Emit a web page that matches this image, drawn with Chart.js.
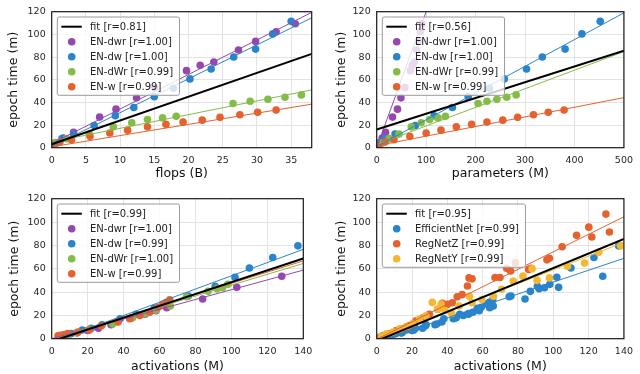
<!DOCTYPE html>
<html>
<head>
<meta charset="utf-8">
<script src="https://cdn.jsdelivr.net/npm/chart.js@4.4.0/dist/chart.umd.min.js"></script>
<style>
  body { margin: 0; background: #fff; }
  .panel { position: absolute; width: 320px; height: 187px; }
</style>
</head>
<body>
<div class="panel" style="left:0;top:0"><canvas id="c1" width="320" height="187"></canvas></div>
<div class="panel" style="left:320px;top:0"><canvas id="c2" width="320" height="187"></canvas></div>
<div class="panel" style="left:0;top:187px"><canvas id="c3" width="320" height="187"></canvas></div>
<div class="panel" style="left:320px;top:187px"><canvas id="c4" width="320" height="187"></canvas></div>
<script>
// top row: epoch time (m) vs flops (B) and parameters (M)
const dwrTime   = [4, 8.5, 13.5, 27, 34, 44, 53, 68, 72.7, 75.6, 86.2, 93.8, 102.3, 109.4];
const dwrFlops  = [0.5, 1.7, 3.2, 7, 9.4, 12.4, 15, 19.7, 21.7, 23.7, 27.3, 29.8, 32.8, 35.6];
const dwrParams = [5, 11, 18, 32, 42, 49, 57, 68, 72, 76, 81, 85, 88, 92];

const dwTime   = [4, 8, 12, 19.5, 28.2, 35.5, 45, 52.5, 60.7, 69.5, 80, 87, 100.4, 111.5];
const dwFlops  = [0.6, 1.5, 3.2, 6.2, 9.3, 12, 15, 17.8, 20.2, 23.3, 26.6, 29.8, 32.3, 35];
const dwParams = [5, 14, 37, 78, 116, 153, 185, 228, 258, 303, 335, 381, 415, 452];

const dWrTime   = [4, 8, 12, 18.4, 22, 24.8, 26.3, 27.7, 39, 41, 42.8, 44.5, 46.6];
const dWrFlops  = [0.5, 2.2, 5.5, 9, 11.7, 14, 16.2, 18.2, 26.5, 29, 31.6, 34.1, 36.5];
const dWrParams = [10, 25, 45, 70, 90, 107, 124, 139, 205, 223, 243, 263, 282];

const wTime   = [1.7, 5, 7, 10, 13, 15.5, 18.4, 20.6, 22.6, 24.3, 26.8, 29.1, 31.3, 33.3];
const wFlops  = [0.4, 1.2, 2.9, 5.6, 8.5, 11.1, 14, 16.7, 19.2, 22, 24.6, 27.5, 30.1, 32.8];
const wParams = [5, 17, 35, 67, 100, 130, 161, 192, 223, 255, 285, 317, 347, 379];

// bottom row: epoch time (m) vs activations (M)
const dwrAct  = [4, 5, 7, 10, 14, 20, 26, 33, 44, 52, 58, 64, 84, 103, 128];
const dwrTimeB = [1.5, 2.5, 3, 4, 5, 7, 9, 12, 17.5, 21, 24, 26.5, 34, 44, 53.5];
const dwAct   = [5, 8, 11, 17, 22, 28, 38, 47, 57, 65, 76, 91, 102, 110, 123, 137];
const dwTimeB = [2, 3, 4.5, 7.5, 9, 12, 17, 21, 26, 30, 36.5, 45, 52.7, 60.6, 69.6, 79.6];
const dWrAct  = [4, 6, 9, 14, 21, 34, 45, 52, 58, 66, 75, 87, 92, 95, 98];
const dWrTimeB = [2, 2.5, 3.5, 5, 8, 12.5, 18, 21.5, 24.5, 28, 36, 40.6, 42.9, 43.7, 46.6];
const wAct    = [3.5, 5, 7, 9, 14.6, 21, 27.6, 36.9, 43.4, 49, 54.5, 59.2, 61.9, 63.8, 65.7];
const wTimeB  = [2.5, 3, 3.5, 4.5, 5.6, 7.5, 11, 14.3, 17.1, 19.9, 22.7, 26.9, 29.8, 31.1, 33.4];

const regZAct  = [1.9, 4.7, 7.4, 11.2, 14.9, 18.6, 22.3, 26, 29.8, 34.5, 37.2, 40, 42.8, 45.6, 48.4, 51.4, 52.3, 54, 67, 69.8, 73.6, 75.8, 78.5, 86, 87.5, 96.4, 97.8, 105, 113.2, 120.1, 121.8, 129.8, 131.8];
const regZTime = [1.4, 2.8, 4.2, 7, 8.4, 11.2, 15.4, 17.7, 21, 25.2, 30.3, 29.4, 30.8, 35.9, 37.8, 45.2, 52.1, 51.3, 52.4, 52.4, 60.3, 58, 65, 59.4, 60.3, 67.6, 69, 78.8, 88.6, 95.6, 87.2, 106.8, 91.4];
const regYAct  = [2.8, 5.6, 9.3, 13, 16.8, 20.5, 24.2, 27.9, 31.5, 34.5, 36.5, 38.7, 42.5, 46.6, 52.5, 54, 59.6, 66.1, 70.7, 77.3, 82.8, 88, 90.8, 97.8, 108, 117.7, 125.7, 138.2];
const regYTime = [2, 4.2, 5.6, 8.4, 10.4, 13, 16.8, 19.6, 31.1, 25.2, 29.8, 24.1, 21.6, 28, 36.4, 30.8, 33.6, 36.4, 42.4, 49.4, 53.6, 60, 50, 52.1, 62, 64.8, 74, 79.6];

// fit lines y = a + b*x, order: fit, then each series
const flopsFitA = [3, 3.7, 1, 5, 0.8];
const flopsFitB = [2.1, 3.045, 2.99, 1.21, 0.99];
const paramsFitA = [16, 0, 1, 2.8, 1.7];
const paramsFitB = [0.139, 1.2, 0.236, 0.164, 0.085];
const actFitA = [-2.3, 0, -2.8, -0.6, -0.5];
const actFitB = [0.507, 0.42, 0.567, 0.465, 0.48];
const allFitA = [-1.9, -2.5, -0.5, 0];
const allFitB = [0.624, 0.51, 0.75, 0.59];

const flopsLabels  = ["fit [r=0.81]", "EN-dwr [r=1.00]", "EN-dw [r=1.00]", "EN-dWr [r=0.99]", "EN-w [r=0.99]"];
const paramsLabels = ["fit [r=0.56]", "EN-dwr [r=1.00]", "EN-dw [r=1.00]", "EN-dWr [r=0.99]", "EN-w [r=0.99]"];
const actLabels    = ["fit [r=0.99]", "EN-dwr [r=1.00]", "EN-dw [r=0.99]", "EN-dWr [r=1.00]", "EN-w [r=0.99]"];
const allLabels    = ["fit [r=0.95]", "EfficientNet [r=0.99]", "RegNetZ [r=0.99]", "RegNetY [r=0.99]"];

const yTicks = [0, 20, 40, 60, 80, 100, 120];
const flopsTicks = [0, 5, 10, 15, 20, 25, 30, 35];
const paramsTicks = [0, 100, 200, 300, 400, 500];
const actTicks = [0, 20, 40, 60, 80, 100, 120, 140];

const PURPLE = "#9448b0", BLUE = "#2a84cc", GREEN = "#83bd48", ORANGE = "#e5622e", YELLOW = "#f3b833";
const FONT = "'DejaVu Sans', sans-serif";

function zip(xs, ys) {
  return xs.map((x, i) => ({ x: x, y: ys[i] }));
}

function makeLegend(items) {
  return {
    id: "legendBox",
    afterDraw(chart) {
      const ctx = chart.ctx;
      const area = chart.chartArea;
      const x = area.left + 5.6, y = area.top + 5.3;
      ctx.save();
      ctx.font = "10px " + FONT;
      const tw = Math.max(...items.map((it) => ctx.measureText(it.label).width));
      const w = 32.7 + tw + 6.5, h = items.length * 15 + 3.3;
      ctx.beginPath();
      ctx.roundRect(x, y, w, h, 2);
      ctx.fillStyle = "rgba(255,255,255,0.8)";
      ctx.fill();
      ctx.strokeStyle = "#9a9a9a";
      ctx.lineWidth = 1;
      ctx.stroke();
      items.forEach((it, i) => {
        const cy = y + 9.7 + i * 15;
        if (it.line) {
          ctx.beginPath();
          ctx.moveTo(x + 4, cy);
          ctx.lineTo(x + 24.5, cy);
          ctx.strokeStyle = it.color;
          ctx.lineWidth = 2;
          ctx.stroke();
        } else {
          ctx.beginPath();
          ctx.arc(x + 14.4, cy, 3.8, 0, Math.PI * 2);
          ctx.fillStyle = it.color;
          ctx.fill();
        }
        ctx.fillStyle = "#222";
        ctx.textBaseline = "middle";
        ctx.fillText(it.label, x + 32.7, cy + 0.5);
      });
      ctx.restore();
    }
  };
}

const frame = {
  id: "frame",
  afterDatasetsDraw(chart) {
    const { ctx, chartArea: a } = chart;
    ctx.save();
    ctx.strokeStyle = "#1a1a1a";
    ctx.lineWidth = 1.2;
    ctx.strokeRect(a.left, a.top, a.right - a.left, a.bottom - a.top);
    ctx.restore();
  }
};

function makePanel(id, p) {
  const datasets = [];
  p.fitA.forEach((a, i) => {
    const b = p.fitB[i];
    datasets.push({
      data: [{ x: 0, y: a }, { x: p.xMax, y: a + b * p.xMax }],
      showLine: true,
      pointRadius: 0,
      borderColor: i === 0 ? "#000" : p.colors[i - 1],
      borderWidth: i === 0 ? 2 : 1,
      order: i === 0 ? 0 : 1
    });
  });
  p.series.forEach((s, i) => {
    datasets.push({
      data: zip(s.x, s.y),
      pointRadius: 3.8,
      pointHoverRadius: 3.8,
      pointBorderWidth: 0,
      backgroundColor: p.colors[i],
      borderColor: p.colors[i],
      order: 10 - i
    });
  });
  const items = p.labels.map((label, i) => ({
    label: label,
    line: i === 0,
    color: i === 0 ? "#000" : p.colors[i - 1]
  }));

  new Chart(document.getElementById(id), {
    type: "scatter",
    data: { datasets: datasets },
    options: {
      responsive: false,
      animation: false,
      devicePixelRatio: 1,
      layout: { padding: { left: 0, right: p.padRight, top: p.padTop, bottom: 0 } },
      plugins: { legend: { display: false }, tooltip: { enabled: false } },
      scales: {
        x: {
          type: "linear",
          min: 0,
          max: p.xMax,
          afterBuildTicks: (s) => { s.ticks = p.xTicks.map((v) => ({ value: v })); },
          afterFit: (s) => { s.height = 187 - p.plotBottom; },
          grid: { color: "#e3e3e3", drawTicks: false },
          border: { display: false },
          ticks: { padding: 7, color: "#262626", font: { family: FONT, size: 9.5 } },
          title: {
            display: true,
            text: p.xTitle,
            color: "#111",
            font: { family: FONT, size: 12.5 },
            padding: { top: 0, bottom: p.xTitlePad }
          }
        },
        y: {
          min: 0,
          max: 120,
          afterBuildTicks: (s) => { s.ticks = yTicks.map((v) => ({ value: v })); },
          afterFit: (s) => { s.width = p.plotLeft; },
          grid: { color: "#e3e3e3", drawTicks: false },
          border: { display: false },
          ticks: { padding: 6, color: "#262626", font: { family: FONT, size: 9.5 } },
          title: {
            display: true,
            text: "epoch time (m)",
            color: "#111",
            font: { family: FONT, size: 12.5 },
            padding: { top: p.yTitlePad, bottom: 0 }
          }
        }
      }
    },
    plugins: [frame, makeLegend(items)]
  });
}

const enColors = [PURPLE, BLUE, GREEN, ORANGE];

makePanel("c1", {
  series: [
    { x: dwrFlops, y: dwrTime }, { x: dwFlops, y: dwTime },
    { x: dWrFlops, y: dWrTime }, { x: wFlops, y: wTime }
  ],
  colors: enColors, labels: flopsLabels, fitA: flopsFitA, fitB: flopsFitB,
  xMax: 38, xTicks: flopsTicks, xTitle: "flops (B)",
  plotLeft: 51.7, padRight: 8.3, padTop: 5.7, plotBottom: 147.7,
  yTitlePad: 6, xTitlePad: 6.2
});

makePanel("c2", {
  series: [
    { x: dwrParams, y: dwrTime }, { x: dwParams, y: dwTime },
    { x: dWrParams, y: dWrTime }, { x: wParams, y: wTime }
  ],
  colors: enColors, labels: paramsLabels, fitA: paramsFitA, fitB: paramsFitB,
  xMax: 500, xTicks: paramsTicks, xTitle: "parameters (M)",
  plotLeft: 56.7, padRight: 13.3, padTop: 5.7, plotBottom: 147.7,
  yTitlePad: 14.2, xTitlePad: 6.2
});

makePanel("c3", {
  series: [
    { x: dwrAct, y: dwrTimeB }, { x: dwAct, y: dwTimeB },
    { x: dWrAct, y: dWrTimeB }, { x: wAct, y: wTimeB }
  ],
  colors: enColors, labels: actLabels, fitA: actFitA, fitB: actFitB,
  xMax: 140, xTicks: actTicks, xTitle: "activations (M)",
  plotLeft: 51.7, padRight: 16.7, padTop: 9, plotBottom: 151.7,
  yTitlePad: 7.5, xTitlePad: 0
});

// EfficientNet here is every EN point from the panel on the left
const effAct = [].concat(dwrAct, dwAct, dWrAct, wAct);
const effTime = [].concat(dwrTimeB, dwTimeB, dWrTimeB, wTimeB);

makePanel("c4", {
  series: [
    { x: effAct, y: effTime }, { x: regZAct, y: regZTime }, { x: regYAct, y: regYTime }
  ],
  colors: [BLUE, ORANGE, YELLOW], labels: allLabels, fitA: allFitA, fitB: allFitB,
  xMax: 140, xTicks: actTicks, xTitle: "activations (M)",
  plotLeft: 56.7, padRight: 12.7, padTop: 9, plotBottom: 151.7,
  yTitlePad: 14.5, xTitlePad: 0.2
});
</script>
</body>
</html>
